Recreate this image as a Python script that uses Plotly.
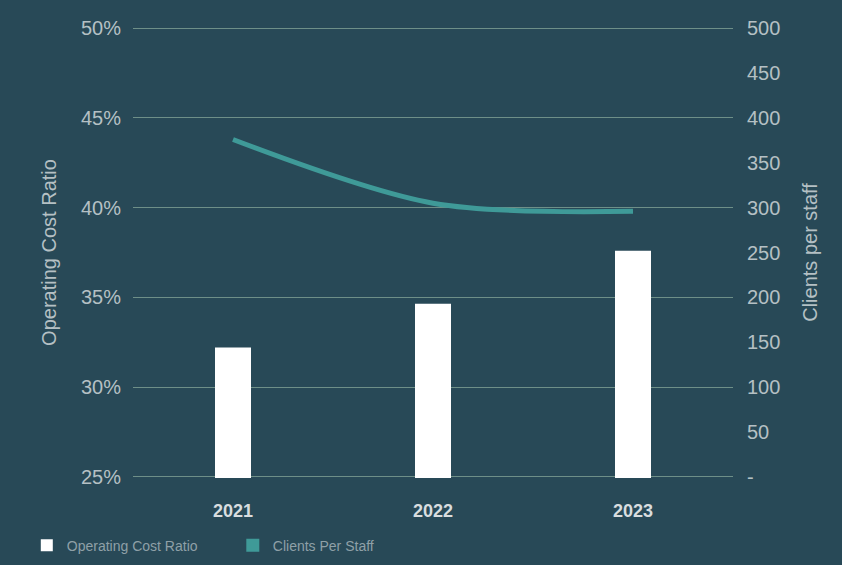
import plotly.graph_objects as go

years = ["2021", "2022", "2023"]
operating_cost_ratio = [0.322, 0.3465, 0.376]
clients_per_staff = [376, 305, 296]

left_ticks = [0.25, 0.30, 0.35, 0.40, 0.45, 0.50]
right_ticks = [0, 50, 100, 150, 200, 250, 300, 350, 400, 450, 500]
right_ticktext = ["-"] + [str(v) for v in right_ticks[1:]]

BG = "#284957"
GRID = "#6E8F88"
TICK = "#B5C0C4"
TEAL = "#3F9A98"
FONT = "Liberation Sans, Arial, sans-serif"

fig = go.Figure()
fig.add_trace(go.Bar(
    x=years, y=operating_cost_ratio, name="Operating Cost Ratio",
    marker=dict(color="white", line=dict(width=0)), width=0.18,
    base=0, yaxis="y",
))
fig.add_trace(go.Scatter(
    x=years, y=clients_per_staff, name="Clients Per Staff",
    mode="lines", line=dict(color=TEAL, width=5, shape="spline", smoothing=0.9),
    yaxis="y2", showlegend=False,
))
# legend swatch for the line series (square, as in the reference)
fig.add_trace(go.Scatter(
    x=[None], y=[None], name="Clients Per Staff", mode="markers",
    marker=dict(symbol="square", color=TEAL, size=13), yaxis="y2",
))

fig.update_layout(
    width=842, height=565,
    paper_bgcolor=BG, plot_bgcolor=BG,
    margin=dict(l=133, r=109, t=27, b=87, autoexpand=False),
    font=dict(family=FONT, color=TICK),
    xaxis=dict(
        showgrid=False, zeroline=False, showline=False,
        tickfont=dict(size=18, color="#D8DDDF", family=FONT, weight="bold"),
        ticks="outside", ticklen=16, tickcolor=BG,
    ),
    yaxis=dict(
        range=[0.2493, 0.5007], tickvals=left_ticks, tickformat=".0%",
        showgrid=True, gridcolor=GRID, gridwidth=1, zeroline=False,
        showline=False, ticks="outside", ticklen=7, tickcolor=BG,
        tickfont=dict(size=20, color=TICK),
        title=dict(text="Operating Cost Ratio", font=dict(size=20, color=TICK), standoff=18),
    ),
    yaxis2=dict(
        range=[-1.4, 501.4], tickvals=right_ticks, ticktext=right_ticktext,
        overlaying="y", side="right", showgrid=False, zeroline=False,
        showline=False, ticks="outside", ticklen=9, tickcolor=BG,
        tickfont=dict(size=20, color=TICK),
        title=dict(text="Clients per staff", font=dict(size=20, color=TICK), standoff=23),
    ),
    legend=dict(
        orientation="h", x=-0.177, y=-0.15, xanchor="left", yanchor="middle",
        font=dict(size=14, color="#8FA0A7"), bgcolor="rgba(0,0,0,0)",
        itemwidth=30, entrywidth=161, tracegroupgap=0,
    ),
    showlegend=True,
)

fig.write_html(
    "out.html",
    config={"displayModeBar": False},
    post_script="document.body.style.margin='0';document.body.style.padding='0';",
)
